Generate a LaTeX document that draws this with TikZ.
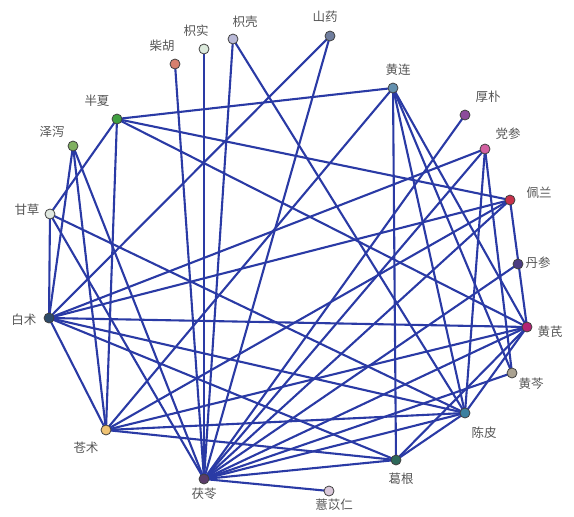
\documentclass[tikz,border=0pt]{standalone}
\usepackage{fontspec}
\newfontfamily\cjk{Noto Sans CJK SC}
\pgfdeclarelayer{bg}
\pgfsetlayers{bg,main}
\definecolor{edgeblue}{HTML}{2A3AA5}
\definecolor{labgray}{HTML}{555555}
\tikzset{
  herb/.style={circle, draw=black!75, line width=0.8pt, minimum size=10pt, inner sep=0pt},
  lab/.style={font=\cjk\fontsize{12.5}{13}\selectfont, text=labgray, inner sep=0pt},
  link/.style={draw=edgeblue, line width=2.1pt}
}
\begin{document}
\begin{tikzpicture}[x=1pt,y=-1pt]
\useasboundingbox (0,0) rectangle (574,517);
% nodes
\node[herb, fill={rgb,255:red,214;green,128;blue,110}] (ch) at (175,64) {};
\node[herb, fill={rgb,255:red,220;green,234;blue,220}] (zs) at (204,49) {};
\node[herb, fill={rgb,255:red,185;green,185;blue,215}] (zq) at (233,39) {};
\node[herb, fill={rgb,255:red,112;green,126;blue,158}] (sy) at (330,36) {};
\node[herb, fill={rgb,255:red,100;green,145;blue,175}] (hl) at (393,88) {};
\node[herb, fill={rgb,255:red,140;green,75;blue,155}] (hp) at (465,115) {};
\node[herb, fill={rgb,255:red,210;green,95;blue,160}] (dsn) at (485,149) {};
\node[herb, fill={rgb,255:red,200;green,50;blue,75}] (pl) at (510,200) {};
\node[herb, fill={rgb,255:red,75;green,60;blue,130}] (dan) at (518,264) {};
\node[herb, fill={rgb,255:red,180;green,35;blue,115}] (hq) at (527,327) {};
\node[herb, fill={rgb,255:red,170;green,162;blue,145}] (hqin) at (512,373) {};
\node[herb, fill={rgb,255:red,60;green,128;blue,160}] (cp) at (465,413) {};
\node[herb, fill={rgb,255:red,45;green,105;blue,90}] (gg) at (396,460) {};
\node[herb, fill={rgb,255:red,218;green,200;blue,218}] (yyr) at (329,491) {};
\node[herb, fill={rgb,255:red,90;green,60;blue,105}] (fl) at (204,479) {};
\node[herb, fill={rgb,255:red,240;green,195;blue,115}] (cz) at (106,430) {};
\node[herb, fill={rgb,255:red,45;green,75;blue,105}] (bz) at (49,318) {};
\node[herb, fill={rgb,255:red,224;green,232;blue,224}] (gc) at (50,214) {};
\node[herb, fill={rgb,255:red,128;green,176;blue,96}] (zx) at (73,146) {};
\node[herb, fill={rgb,255:red,64;green,160;blue,64}] (bx) at (117,119) {};
% labels
\node[lab] (lch) at (162,46) {柴胡};
\node[lab] (lzs) at (196,31) {枳实};
\node[lab] (lzq) at (245,22) {枳壳};
\node[lab] (lsy) at (325,17) {山药};
\node[lab] (lhl) at (398,70) {黄连};
\node[lab] (lhp) at (488,97) {厚朴};
\node[lab] (lds) at (508,134) {党参};
\node[lab] (lpl) at (539,193) {佩兰};
\node[lab] (ldan) at (538,263) {丹参};
\node[lab] (lhq) at (550,332) {黄芪};
\node[lab] (lhqin) at (531,384) {黄芩};
\node[lab] (lcp) at (484,433) {陈皮};
\node[lab] (lgg) at (401,479) {葛根};
\node[lab] (lyyr) at (334,505) {薏苡仁};
\node[lab] (lfl) at (204,494) {茯苓};
\node[lab] (lcz) at (86,448) {苍术};
\node[lab] (lbz) at (24,320) {白术};
\node[lab] (lgc) at (27,210) {甘草};
\node[lab] (lzx) at (52,132) {泽泻};
\node[lab] (lbx) at (97,101) {半夏};
% edges
\begin{pgfonlayer}{bg}
\foreach \a/\b in {ch/fl, zs/fl, zq/fl, zq/cp, sy/bz, sy/fl,
  hl/bx, hl/cz, hl/gg, hl/cp, hl/hqin, hl/hq,
  hp/fl, dsn/bz, dsn/fl, dsn/cp, dsn/hqin,
  pl/bx, pl/bz, pl/cz, pl/fl, pl/hq, dan/fl,
  hq/bz, hq/bx, hq/cz, hq/cp, hq/gg, hq/fl,
  hqin/fl, cp/cz, cp/gg, cp/fl, cp/gc, cp/bz,
  gg/bz, gg/fl, gg/cz, yyr/fl,
  cz/bx, cz/zx, cz/bz, bz/zx, bz/gc, gc/bx, gc/fl, zx/fl}
  \draw[link] (\a.center) -- (\b.center);
\end{pgfonlayer}
\end{tikzpicture}
\end{document}
